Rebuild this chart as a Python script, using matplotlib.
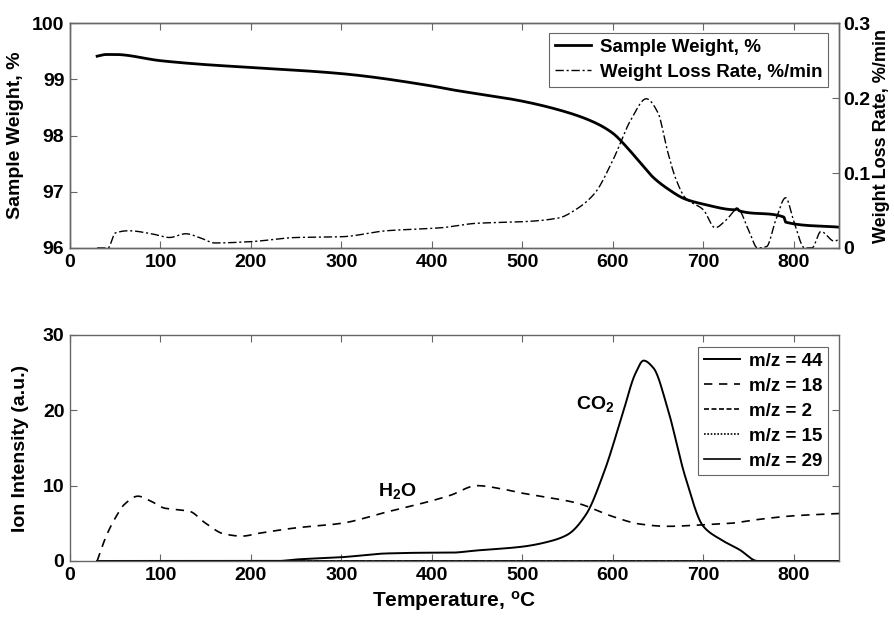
import matplotlib
matplotlib.use("Agg")
import matplotlib.pyplot as plt
import numpy as np

plt.rcParams['font.family'] = ['Liberation Sans', 'DejaVu Sans']
plt.rcParams['font.weight'] = 'bold'
plt.rcParams['axes.labelweight'] = 'bold'
plt.rcParams['mathtext.fontset'] = 'custom'
plt.rcParams['mathtext.rm'] = 'Liberation Sans:bold'
plt.rcParams['mathtext.bf'] = 'Liberation Sans:bold'
plt.rcParams['mathtext.it'] = 'Liberation Sans:bold'

# ---- TGA data ----
sw_T = [30, 40, 50, 100, 150, 200, 300, 400, 420, 500, 550, 580, 600, 615, 630, 645, 660,
        680, 700, 735, 737, 740, 789, 791, 850]
sw_W = [99.41, 99.44, 99.44, 99.33, 99.26, 99.21, 99.10, 98.88, 98.82, 98.61, 98.41, 98.23,
        98.04, 97.80, 97.52, 97.25, 97.06, 96.87, 96.78, 96.68, 96.70, 96.66, 96.55, 96.46,
        96.37]

wl_T = [30, 42, 50, 65, 90, 110, 128, 145, 160, 200, 250, 300, 350, 410, 450, 500, 540, 560,
        580, 600, 620, 637, 650, 660, 670, 680, 700, 713, 725, 738, 750, 760, 770, 780, 791,
        800, 812, 820, 830, 845, 850]
wl_R = [0.0, 0.0, 0.02, 0.023, 0.019, 0.014, 0.019, 0.013, 0.0067, 0.0085, 0.014, 0.015,
        0.023, 0.027, 0.033, 0.035, 0.040, 0.052, 0.073, 0.117, 0.171, 0.199, 0.18, 0.131,
        0.091, 0.067, 0.051, 0.027, 0.037, 0.052, 0.024, 0.0, 0.002, 0.037, 0.067, 0.036,
        0.0, 0.0, 0.022, 0.009, 0.012]

# ---- MS data ----
h2o_T = [30, 40, 50, 60, 75, 90, 105, 120, 132, 150, 170, 190, 210, 250, 300, 350, 400, 420,
         450, 480, 500, 530, 560, 600, 630, 660, 700, 730, 760, 800, 850]
h2o_I = [0.0, 3.3, 5.7, 7.5, 8.6, 7.9, 7.0, 6.8, 6.6, 5.0, 3.6, 3.3, 3.7, 4.4, 5.0, 6.5, 8.0,
         8.7, 10.0, 9.5, 9.0, 8.4, 7.7, 5.9, 4.9, 4.6, 4.8, 5.0, 5.5, 6.0, 6.3]

co2_T = [30, 230, 250, 300, 350, 400, 420, 450, 500, 530, 550, 570, 590, 610, 625, 634, 645,
         660, 680, 700, 720, 740, 760, 850]
co2_I = [0.0, 0.0, 0.2, 0.5, 1.0, 1.1, 1.1, 1.4, 1.9, 2.6, 3.5, 6.1, 11.7, 19.2, 24.9, 26.6,
         25.6, 20.5, 11.2, 4.6, 2.8, 1.5, 0.0, 0.0]

flat_T = [30, 850]
mz2_I = [0.0, 0.0]
mz15_I = [0.0, 0.0]
mz29_I = [0.0, 0.0]


def pchip(x, y, n=1500):
    x = np.asarray(x, float)
    y = np.asarray(y, float)
    h = np.diff(x)
    d = np.diff(y) / h
    m = np.zeros_like(y)
    for k in range(1, len(x) - 1):
        if d[k - 1] * d[k] > 0:
            w1 = 2 * h[k] + h[k - 1]
            w2 = h[k] + 2 * h[k - 1]
            m[k] = (w1 + w2) / (w1 / d[k - 1] + w2 / d[k])
    m[0] = d[0]
    m[-1] = d[-1]
    xs = np.linspace(x[0], x[-1], n)
    idx = np.clip(np.searchsorted(x, xs) - 1, 0, len(x) - 2)
    t = (xs - x[idx]) / h[idx]
    h00 = 2 * t**3 - 3 * t**2 + 1
    h10 = t**3 - 2 * t**2 + t
    h01 = -2 * t**3 + 3 * t**2
    h11 = t**3 - t**2
    ys = h00 * y[idx] + h10 * h[idx] * m[idx] + h01 * y[idx + 1] + h11 * h[idx] * m[idx + 1]
    return xs, ys


fig = plt.figure(figsize=(8.94, 6.2), dpi=100)
frame_c = '#666666'
fs = 14
lfs = 13.5

def style(ax):
    for s in ax.spines.values():
        s.set_color(frame_c)
        s.set_linewidth(1.0)
    ax.tick_params(direction='in', length=5, width=0.8, color=frame_c, labelsize=fs,
                   top=True, pad=4)
    for lab in ax.get_xticklabels() + ax.get_yticklabels():
        lab.set_fontweight('bold')

leg_kw = dict(prop={'size': lfs, 'weight': 'bold'}, fancybox=False, framealpha=1,
              edgecolor=frame_c, borderpad=0.3, labelspacing=0.42, handlelength=1.9,
              handletextpad=0.5, borderaxespad=0)

# Top panel
ax1 = fig.add_axes([0.0783, 0.600, 0.8602, 0.3629])
l1, = ax1.plot(*pchip(sw_T, sw_W), '-', color='black', lw=2.0, label='Sample Weight, %')
ax1.set_xlim(0, 850)
ax1.set_ylim(96, 100)
ax1.set_yticks([96, 97, 98, 99, 100])
ax1.set_xticks(range(0, 900, 100))
ax1.set_ylabel('Sample Weight, %', fontsize=fs, fontweight='bold', labelpad=6)
style(ax1)
ax1.tick_params(right=False)

ax2 = ax1.twinx()
l2, = ax2.plot(*pchip(wl_T, wl_R), color='black', lw=1.0, linestyle=(0, (6, 2, 1.5, 2)),
               label='Weight Loss Rate, %/min')
ax2.set_ylim(0, 0.3)
ax2.set_yticks([0, 0.1, 0.2, 0.3])
ax2.set_yticklabels(['0', '0.1', '0.2', '0.3'])
ax2.set_ylabel('Weight Loss Rate, %/min', fontsize=13, fontweight='bold', labelpad=2)
style(ax2)
ax2.tick_params(pad=3)
leg1 = ax1.legend(handles=[l1, l2], loc='upper right', bbox_to_anchor=(0.9857, 0.955), **leg_kw)
leg1.get_frame().set_linewidth(0.8)

# Bottom panel
ax3 = fig.add_axes([0.0783, 0.0952, 0.8602, 0.3645])
a, = ax3.plot(*pchip(co2_T, co2_I), '-', color='black', lw=1.4, label='m/z = 44')
b, = ax3.plot(*pchip(h2o_T, h2o_I), color='black', lw=1.2, linestyle=(0, (5, 4)), label='m/z = 18')
c, = ax3.plot(flat_T, mz2_I, color='black', lw=1.2, linestyle=(0, (3, 1.5)), label='m/z = 2')
d, = ax3.plot(flat_T, mz15_I, color='black', lw=1.2, linestyle=(0, (1, 1)), label='m/z = 15')
e, = ax3.plot(flat_T, mz29_I, '-', color='black', lw=1.2, label='m/z = 29')
ax3.set_xlim(0, 850)
ax3.set_ylim(0, 30)
ax3.set_yticks([0, 10, 20, 30])
ax3.set_xticks(range(0, 900, 100))
ax3.set_ylabel('Ion Intensity (a.u.)', fontsize=fs, fontweight='bold', labelpad=10)
ax3.set_xlabel('Temperature, $^{\\mathrm{o}}$C', fontsize=fs + 1, fontweight='bold', labelpad=4)
style(ax3)
ax3.tick_params(right=True)
leg3 = ax3.legend(handles=[a, b, c, d, e], loc='upper right', bbox_to_anchor=(0.9857, 0.947), **leg_kw)
leg3.get_frame().set_linewidth(0.8)

ax3.text(362, 9.3, 'H$_{\\mathrm{2}}$O', fontsize=fs, fontweight='bold', ha='center', va='center')
ax3.text(580, 20.8, 'CO$_{\\mathrm{2}}$', fontsize=fs, fontweight='bold', ha='center', va='center')

fig.savefig('out.png', dpi=100)
